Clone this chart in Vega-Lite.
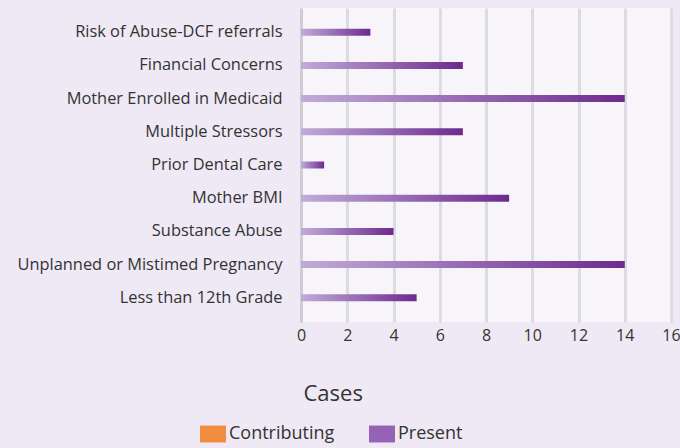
{
  "$schema": "https://vega.github.io/schema/vega-lite/v6.json",
  "width": 370,
  "height": 314,
  "autosize": "none",
  "padding": {"left": 301, "top": 8, "right": 9, "bottom": 126},
  "background": "#eee9f4",
  "data": {"values": [
    {"factor": "Risk of Abuse-DCF referrals", "type": "Present", "cases": 3},
    {"factor": "Financial Concerns", "type": "Present", "cases": 7},
    {"factor": "Mother Enrolled in Medicaid", "type": "Present", "cases": 14},
    {"factor": "Multiple Stressors", "type": "Present", "cases": 7},
    {"factor": "Prior Dental Care", "type": "Present", "cases": 1},
    {"factor": "Mother BMI", "type": "Present", "cases": 9},
    {"factor": "Substance Abuse", "type": "Present", "cases": 4},
    {"factor": "Unplanned or Mistimed Pregnancy", "type": "Present", "cases": 14},
    {"factor": "Less than 12th Grade", "type": "Present", "cases": 5}
  ]},
  "encoding": {
    "y": {
      "field": "factor", "type": "nominal", "sort": null,
      "scale": {"paddingInner": 0, "paddingOuter": 0.23},
      "axis": {"title": null, "ticks": false, "grid": false,
               "domain": true, "domainColor": "#cfcdd4", "domainWidth": 3,
               "labelPadding": 19, "labelFontSize": 16.4, "labelFont": "Open Sans",
               "labelColor": "#333333", "labelLimit": 400}
    },
    "x": {
      "field": "cases", "type": "quantitative",
      "scale": {"domain": [0, 16], "nice": false},
      "axis": {"values": [0, 2, 4, 6, 8, 10, 12, 14, 16], "title": "Cases",
               "ticks": false, "domain": false, "grid": true,
               "gridColor": "#dcdbe1", "gridWidth": 3, "gridOpacity": 1,
               "labelFlush": false,
               "labelPadding": 5, "labelFontSize": 16, "labelFont": "Open Sans",
               "labelColor": "#333333",
               "titleFont": "Open Sans", "titleFontSize": 22, "titleFontWeight": "normal",
               "titleColor": "#333333", "titleX": 2, "titleY": 78,
               "titleAlign": "left", "titleBaseline": "alphabetic"}
    }
  },
  "layer": [
    {
      "mark": {"type": "bar", "size": 7,
               "color": {"gradient": "linear", "x1": 0, "y1": 0, "x2": 1, "y2": 0,
                         "stops": [{"offset": 0, "color": "#c1abd8"}, {"offset": 1, "color": "#6d2a8e"}]}}
    },
    {
      "mark": {"type": "point", "opacity": 0, "filled": true},
      "encoding": {
        "color": {
          "field": "type", "type": "nominal",
          "scale": {"domain": ["Contributing", "Present"], "range": ["#f28c3e", "#9563b5"]},
          "legend": {"title": null, "orient": "none", "direction": "horizontal",
                     "legendX": -101, "legendY": 413,
                     "symbolType": "M-1,-0.65H1V0.65H-1Z", "symbolSize": 676,
                     "symbolStrokeWidth": 0, "symbolOpacity": 1,
                     "labelFont": "Open Sans", "labelFontSize": 18, "labelColor": "#333333",
                     "labelOffset": 3, "columnPadding": 34, "padding": 0}
        }
      }
    }
  ],
  "config": {
    "view": {"fill": "#f7f5fa", "stroke": null}
  }
}
